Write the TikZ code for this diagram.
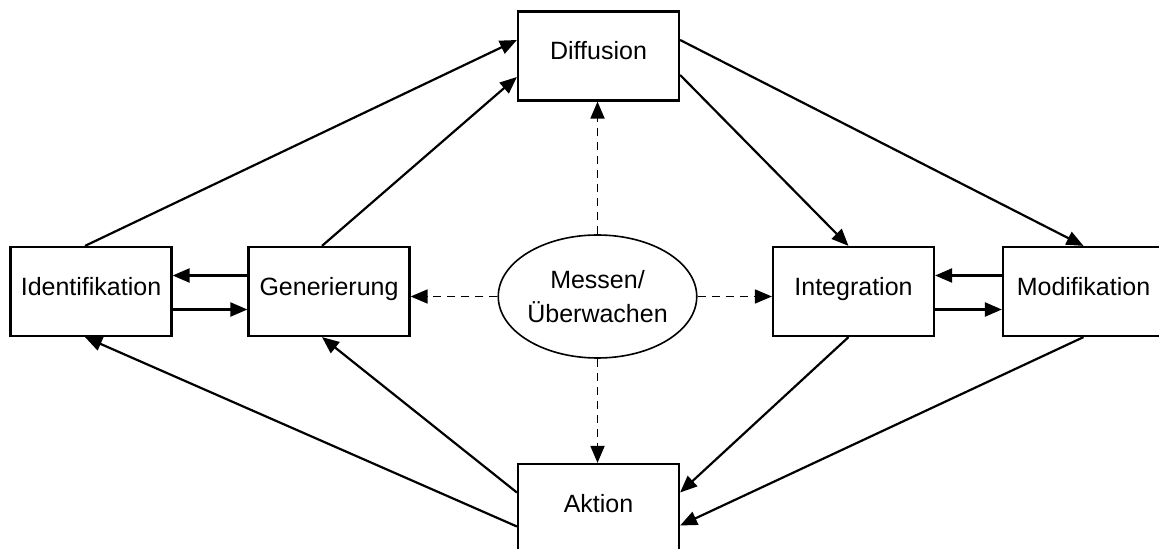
\documentclass[tikz,border=0pt]{standalone}
\usepackage{fontspec}
\setmainfont{Liberation Sans}
\usetikzlibrary{arrows.meta, shapes.geometric}
\tikzset{
  box/.style={draw, line width=1.1pt, fill=white, minimum width=80.5pt, minimum height=44.5pt,
    text height=9pt, text depth=5pt, font=\fontsize{12.5}{17}\selectfont},
  oval/.style={draw, ellipse, line width=0.8pt, minimum width=95.5pt, minimum height=61.5pt,
    inner sep=0pt, align=center, font=\fontsize{12.5}{17}\selectfont},
  arr/.style={-{Triangle[length=8.5pt, width=7pt]}, line width=1.1pt},
  darr/.style={arr, line width=0.9pt, dash pattern=on 4pt off 3pt},
}

\begin{document}
\begin{tikzpicture}[x=0.5pt, y=-0.5pt]
    \useasboundingbox (0,0) rectangle (1159,549);
    \node[box] (diff) at (598.5,56) {Diffusion};
    \node[box] (ident) at (91,291.5) {Identifikation};
    \node[box] (gen) at (329,291.5) {Generierung};
    \node[oval] (mess) at (597.5,296.5) {Messen/\\Überwachen};
    \node[box] (integ) at (853.5,291.5) {Integration};
    \node[box] (modif) at (1083.5,291.5) {Modifikation};
    \node[box] (akt) at (598.5,508.5) {Aktion};

    \draw[arr] ([xshift=-3pt]ident.north) -- ([yshift=8pt]diff.west);
    \draw[arr] ([xshift=-3.5pt]gen.north) -- ([yshift=-10.5pt]diff.west);
    \draw[arr] ([yshift=8pt]diff.east) -- (modif.north);
    \draw[arr] ([yshift=-9.5pt]diff.east) -- ([xshift=-2.5pt]integ.north);
    \draw[arr] ([xshift=-2.5pt]integ.south) -- ([yshift=8pt]akt.east);
    \draw[arr] (modif.south) -- ([yshift=-8.5pt]akt.east);
    \draw[arr] ([yshift=8pt]akt.west) -- ([xshift=-3.5pt]gen.south);
    \draw[arr] ([yshift=-9pt]akt.west) -- ([xshift=-3pt]ident.south);

    \draw[arr] ([yshift=8pt]gen.west) -- ([yshift=8pt]ident.east);
    \draw[arr] ([yshift=-9pt]ident.east) -- ([yshift=-9pt]gen.west);
    \draw[arr] ([yshift=8pt]modif.west) -- ([yshift=8pt]integ.east);
    \draw[arr] ([yshift=-9pt]integ.east) -- ([yshift=-9pt]modif.west);

    \draw[darr] (mess.north) -- (mess.north |- diff.south);
    \draw[darr] (mess.south) -- (mess.south |- akt.north);
    \draw[darr] (mess.west) -- (mess.west -| gen.east);
    \draw[darr] (mess.east) -- (mess.east -| integ.west);
  \end{tikzpicture}
\end{document}
